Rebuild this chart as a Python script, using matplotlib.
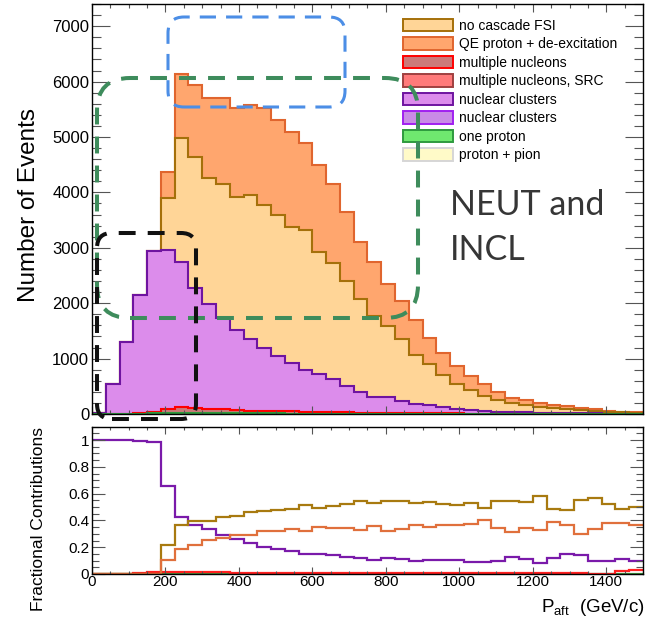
import numpy as np
import matplotlib
matplotlib.use("Agg")
import matplotlib.pyplot as plt
from matplotlib.patches import Patch, FancyBboxPatch
from matplotlib.ticker import MultipleLocator, FuncFormatter

plt.rcParams['font.family'] = ['Liberation Sans', 'DejaVu Sans']
plt.rcParams['mathtext.fontset'] = 'custom'
plt.rcParams['mathtext.rm'] = 'Liberation Sans'

# 40 bins of 37.5 GeV/c from 0 to 1500
edges = np.linspace(0, 1500, 41)

one_proton = [0, 0, 0, 0, 10, 20, 25, 25, 20, 20, 15, 15, 12, 10, 8, 5, 4, 3, 2, 2,
              0, 0, 0, 0, 0, 0, 0, 0, 0, 0, 0, 0, 0, 0, 0, 0, 0, 0, 0, 0]
multi_nucleons = [0, 0, 0, 15, 35, 66, 110, 85, 75, 65, 55, 48, 45, 40, 38, 35, 32, 30, 28, 25,
                  27, 23, 20, 17, 14, 11, 9, 7, 5, 4, 3, 2, 2, 1, 1, 1, 0, 0, 1, 1]
nuclear_clusters = [25, 536, 1300, 2126, 2905, 2867, 2607, 2169, 1895, 1653, 1440, 1284, 1128, 996,
                    880, 748, 680, 593, 475, 370, 278, 287, 222, 164, 140, 113, 88, 61, 48, 37,
                    37, 28, 16, 20, 21, 16, 9, 6, 5, 3]
no_cascade = [0, 0, 0, 0, 0, 950, 2231, 2357, 2274, 2417, 2405, 2598, 2585, 2544, 2454, 2525,
              2206, 2104, 1894, 1684, 1456, 1279, 1118, 892, 741, 576, 449, 364, 267, 214,
              158, 134, 116, 83, 66, 63, 51, 33, 22, 15]
qe_proton = [0, 0, 0, 0, 0, 469, 1167, 1299, 1431, 1540, 1611, 1629, 1756, 1708, 1707, 1582,
             1564, 1413, 1251, 1019, 980, 751, 678, 618, 482, 406, 320, 254, 219, 135,
             92, 86, 66, 66, 50, 34, 30, 24, 17, 11]

# stack order, bottom first: values, fill, outline, ratio line colour
stack = [
    (one_proton, '#6fe86f', '#2e9a3e', '#3c9a3c'),
    (multi_nucleons, '#cc7a7a', '#ff0000', '#ff2020'),
    (nuclear_clusters, '#dc8ceb', '#6f14a0', '#7a1aaa'),
    (no_cascade, '#ffd597', '#a5700a', '#a87a10'),
    (qe_proton, '#ffa66e', '#e0652e', '#e0703c'),
]

legend_entries = [
    ('no cascade FSI', '#ffd597', '#a5700a'),
    ('QE proton + de-excitation', '#ffa66e', '#e0652e'),
    ('multiple nucleons', '#cc7a7a', '#ff0000'),
    ('multiple nucleons, SRC', '#ff7a7a', '#a04040'),
    ('nuclear clusters', '#dc8ceb', '#6f14a0'),
    ('nuclear clusters', '#c98be6', '#a020f0'),
    ('one proton', '#6fe86f', '#2e9a3e'),
    ('proton + pion', '#fffac8', '#d6d6d6'),
]

fig = plt.figure(figsize=(6.59, 6.18), dpi=100)
ax = fig.add_axes([0.1396, 0.3301, 0.8361, 0.6634])
rax = fig.add_axes([0.1396, 0.0712, 0.8361, 0.2384])

# cumulative stack, drawn from the top layer down like THStack
cum = np.zeros(len(edges) - 1)
tops = []
for vals, face, edge, _ in stack:
    cum = cum + np.asarray(vals, dtype=float)
    tops.append((cum.copy(), face, edge))
total = cum

for top, face, edge in reversed(tops):
    ax.stairs(top, edges, baseline=0, fill=True, color=face, lw=0)
    ax.stairs(top, edges, baseline=0, color=edge, lw=1.5)

# fractional contributions
for vals, _, _, line in stack:
    frac = np.asarray(vals, dtype=float) / total
    rax.stairs(frac, edges, baseline=None, color=line, lw=1.6)

for a in (ax, rax):
    a.set_xlim(0, 1500)
    a.xaxis.set_major_locator(MultipleLocator(200))
    a.xaxis.set_minor_locator(MultipleLocator(50))
    a.tick_params(which='both', direction='in', top=True, right=True,
                  color='#555555', width=0.8)
    for s in a.spines.values():
        s.set_linewidth(1.0)

ax.set_ylim(0, 7400)
ax.yaxis.set_major_locator(MultipleLocator(1000))
ax.yaxis.set_minor_locator(MultipleLocator(200))
ax.tick_params(axis='y', which='major', length=13, labelsize=12, pad=2)
ax.tick_params(axis='y', which='minor', length=6.5)
ax.tick_params(axis='x', which='major', length=6, labelbottom=False)
ax.tick_params(axis='x', which='minor', length=3)

rax.set_ylim(0, 1.1)
rax.yaxis.set_major_locator(MultipleLocator(0.2))
rax.yaxis.set_minor_locator(MultipleLocator(0.05))
rax.yaxis.set_major_formatter(FuncFormatter(lambda v, p: f'{v:g}'))
rax.tick_params(axis='y', which='major', length=9.5, labelsize=11, pad=2)
rax.tick_params(axis='y', which='minor', length=5)
rax.tick_params(axis='x', which='major', length=5, labelsize=11, pad=1)
rax.tick_params(axis='x', which='minor', length=2.5)

handles = [Patch(facecolor=f, edgecolor=e, lw=1.4) for _, f, e in legend_entries]
ax.legend(handles, [l for l, _, _ in legend_entries], loc='upper left',
          bbox_to_anchor=(403 / 659, 1 - 19 / 618), bbox_transform=fig.transFigure,
          frameon=False, fontsize=10, handlelength=3.6, handleheight=1.0,
          handletextpad=0.42, labelspacing=0.32, borderpad=0, borderaxespad=0)

fig.text(29 / 659, 1 - 205 / 618, 'Number of Events', rotation=90,
         ha='center', va='center', fontsize=17.5)
fig.text(39 / 659, 1 - 519 / 618, 'Fractional Contributions', rotation=90,
         ha='center', va='center', fontsize=12.5)
fig.text(645 / 659, 1 - 612 / 618, r'$\mathregular{P_{aft}}$  (GeV/c)',
         ha='right', va='baseline', fontsize=13.5)

fig.text(450 / 659, 1 - 260 / 618, 'NEUT and\nINCL', ha='left', va='baseline',
         fontsize=24.5, family='Lato', color='#363636', linespacing=1.5)

# dashed highlight boxes, positioned in inches on the figure
boxes = [
    ((1.68, 5.11), 1.77, 0.90, 0.16, '#4c8ee6', 2.2, (5.3, 3.3)),
    ((0.97, 3.00), 3.21, 2.40, 0.33, '#3e8c5c', 2.9, (4.2, 3.0)),
    ((0.97, 1.99), 0.99, 1.86, 0.15, '#111111', 2.9, (4.2, 3.0)),
]
for xy, w, h, r, col, lw, dash in boxes:
    fig.add_artist(FancyBboxPatch(xy, w, h, boxstyle=f'round,pad=0,rounding_size={r}',
                                  transform=fig.dpi_scale_trans, fill=False,
                                  edgecolor=col, lw=lw, ls=(0, dash), zorder=10))

fig.savefig('out.png', dpi=100)
